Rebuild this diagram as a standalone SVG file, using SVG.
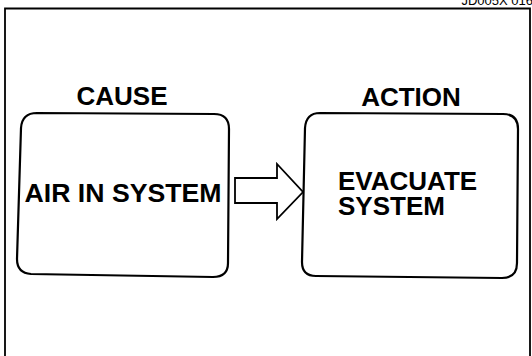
<svg xmlns="http://www.w3.org/2000/svg" width="532" height="356" viewBox="0 0 532 356">
<style>
.t{font-family:"Liberation Sans",Arial,sans-serif;font-weight:bold;font-size:26px;fill:#000}
.box{fill:none;stroke:#000;stroke-width:2.2}
.ref{font-family:"Liberation Sans",Arial,sans-serif;font-size:13px;fill:#000}
</style>
<rect width="532" height="356" fill="#fff"/>
<text class="ref" x="533" y="5" text-anchor="end">JD005X 016</text>
<path d="M5,360 L5,8.5 L530,8.5 L530,360" fill="none" stroke="#000" stroke-width="1.8"/>
<g id="cause">
<text class="t" x="122" y="105" text-anchor="middle">CAUSE</text>
<path class="box" d="M37,113 L214,114 Q229,114 229,129 L228,263 Q228,277 213,277 L31,274 Q17,273 17,259 L21,128 Q22,113 37,113 Z"/>
<text class="t" x="123" y="202" text-anchor="middle" textLength="197" lengthAdjust="spacingAndGlyphs">AIR IN SYSTEM</text>
</g>
<g id="action">
<text class="t" x="411" y="106" text-anchor="middle">ACTION</text>
<path class="box" d="M320,113 L503,114 Q518,114 518,129 L517,263 Q517,278 502,278 L316,276 Q302,276 302,262 L305,128 Q306,113 320,113 Z"/>
<text class="t" x="338" y="190">EVACUATE</text>
<text class="t" x="338" y="215">SYSTEM</text>
</g>
<g id="connectors">
<path d="M235,178 L277,178 L277,164 L303,192 L277,219 L277,203 L235,203 Z" fill="#fff" stroke="#000" stroke-width="1.8" stroke-linejoin="miter"/>
</g>
</svg>
